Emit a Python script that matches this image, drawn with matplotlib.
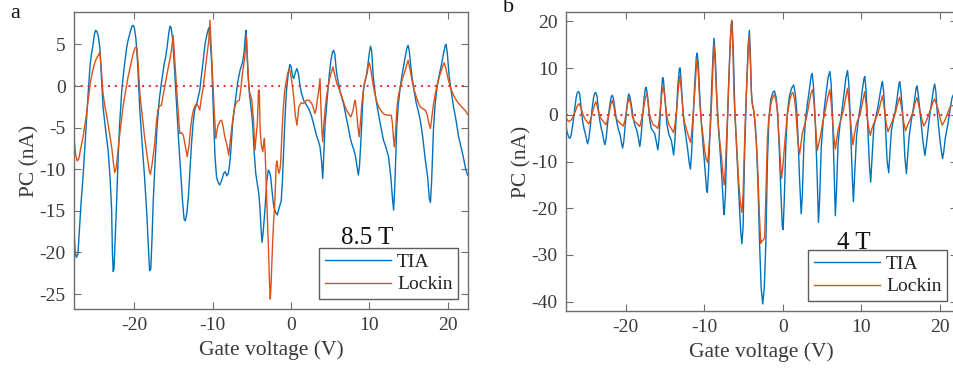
import matplotlib
matplotlib.use("Agg")
import matplotlib.pyplot as plt

plt.rcParams['font.family'] = ['Liberation Serif', 'DejaVu Serif']
plt.rcParams['axes.unicode_minus'] = False

# (gate voltage V, photocurrent nA)

# panel a, 8.5 T, TIA
a_tia = [
    (-27.75, -16.5), (-27.55, -20.0), (-27.4, -20.6), (-27.2, -20.2), (-27.0, -17.0), (-26.8, -14.0),
    (-26.55, -10.9), (-26.2, -5.5), (-25.9, -0.9), (-25.65, 2.5), (-25.5, 3.7), (-25.3, 4.8), (-25.1, 6.2),
    (-24.95, 6.7), (-24.8, 6.6), (-24.6, 6.0), (-24.4, 4.6), (-24.2, 1.0), (-24.0, -2.5), (-23.7, -5.0),
    (-23.35, -7.7), (-23.1, -11.0), (-22.9, -14.9), (-22.8, -20.0), (-22.7, -22.3), (-22.6, -22.0),
    (-22.45, -18.5), (-22.3, -14.9), (-22.1, -9.5), (-21.9, -4.9), (-21.6, -0.5), (-21.35, 1.8),
    (-21.2, 3.0), (-21.0, 4.5), (-20.8, 5.5), (-20.5, 6.6), (-20.3, 7.2), (-20.15, 7.3), (-20.0, 7.0),
    (-19.8, 5.7), (-19.6, 3.0), (-19.3, -2.9), (-19.0, -7.0), (-18.7, -10.9), (-18.4, -15.5),
    (-18.2, -19.5), (-18.05, -22.2), (-17.9, -22.0), (-17.75, -18.5), (-17.6, -14.1), (-17.35, -9.0),
    (-17.1, -4.9), (-16.8, -1.5), (-16.5, 0.7), (-16.2, 2.6), (-16.0, 3.5), (-15.8, 4.8), (-15.6, 6.4),
    (-15.45, 7.2), (-15.3, 7.0), (-15.1, 5.5), (-14.9, 2.5), (-14.6, -2.5), (-14.35, -6.5), (-14.1, -10.1),
    (-13.85, -13.8), (-13.65, -16.0), (-13.5, -16.2), (-13.3, -15.3), (-13.1, -13.3), (-12.9, -10.0),
    (-12.7, -6.9), (-12.5, -4.5), (-12.3, -2.9), (-12.0, -2.0), (-11.65, -0.5), (-11.4, 1.5), (-11.2, 3.1),
    (-10.95, 5.2), (-10.7, 6.3), (-10.5, 7.0), (-10.35, 6.0), (-10.15, 3.1), (-10.0, -0.5), (-9.85, -4.9),
    (-9.7, -8.5), (-9.5, -11.0), (-9.3, -11.6), (-9.1, -11.9), (-8.8, -11.2), (-8.6, -10.5), (-8.4, -10.3),
    (-8.2, -10.8), (-8.0, -10.5), (-7.85, -9.5), (-7.7, -8.0), (-7.45, -4.5), (-7.15, -2.1), (-6.8, 0.5),
    (-6.5, 1.9), (-6.2, 2.8), (-6.0, 4.0), (-5.85, 5.8), (-5.75, 6.7), (-5.65, 5.0), (-5.5, 1.5),
    (-5.3, -1.0), (-5.1, -2.6), (-4.9, -4.5), (-4.7, -8.0), (-4.5, -10.5), (-4.3, -11.8), (-4.1, -13.0),
    (-3.95, -14.9), (-3.8, -17.5), (-3.7, -18.8), (-3.55, -17.5), (-3.3, -14.5), (-3.1, -11.5),
    (-2.9, -10.1), (-2.75, -10.3), (-2.6, -10.9), (-2.4, -12.8), (-2.2, -14.5), (-1.95, -15.2),
    (-1.75, -15.5), (-1.5, -14.6), (-1.25, -13.8), (-1.1, -11.5), (-0.95, -8.0), (-0.8, -4.5),
    (-0.6, -0.8), (-0.35, 1.5), (-0.15, 2.6), (0.0, 2.4), (0.2, 1.2), (0.35, 0.9), (0.55, 1.6),
    (0.75, 2.1), (0.95, 1.5), (1.15, 0.0), (1.35, -0.9), (1.65, -1.8), (2.0, -2.3), (2.3, -2.8),
    (2.65, -3.7), (3.0, -5.0), (3.3, -6.1), (3.5, -6.6), (3.7, -7.3), (3.9, -9.0), (4.05, -11.1),
    (4.2, -8.0), (4.35, -4.5), (4.5, -2.9), (4.7, -0.8), (4.9, 1.5), (5.1, 3.1), (5.3, 4.1), (5.45, 4.3),
    (5.6, 3.8), (5.75, 2.2), (5.9, 1.1), (6.3, -0.8), (6.7, -2.1), (7.0, -3.5), (7.3, -4.9), (7.55, -6.2),
    (7.75, -6.9), (8.0, -7.6), (8.2, -8.3), (8.4, -9.5), (8.6, -10.7), (8.75, -9.5), (8.95, -6.1),
    (9.1, -3.0), (9.25, -0.5), (9.45, 0.6), (9.6, 1.1), (9.8, 2.4), (10.0, 4.0), (10.15, 4.8), (10.3, 4.2),
    (10.5, 1.1), (10.8, -1.3), (11.15, -3.3), (11.5, -5.0), (11.8, -6.5), (12.1, -7.3), (12.45, -8.5),
    (12.75, -11.0), (12.95, -13.5), (13.1, -14.9), (13.25, -12.0), (13.5, -4.9), (13.7, -2.2),
    (13.95, -0.1), (14.15, 1.2), (14.35, 2.3), (14.6, 3.6), (14.8, 4.6), (14.95, 4.9), (15.1, 4.2),
    (15.25, 2.8), (15.45, 1.1), (15.7, -0.5), (16.0, -2.1), (16.25, -3.0), (16.5, -4.1), (16.8, -6.0),
    (17.15, -8.9), (17.45, -11.0), (17.65, -13.5), (17.8, -14.0), (17.95, -11.5), (18.2, -4.9),
    (18.4, -2.2), (18.6, -0.5), (18.85, 1.0), (19.15, 2.3), (19.45, 3.8), (19.7, 4.9), (19.8, 5.0),
    (19.95, 4.0), (20.2, 1.1), (20.45, -0.6), (20.75, -2.5), (21.05, -4.0), (21.4, -6.1), (21.6, -6.9),
    (21.8, -7.7), (22.1, -9.0), (22.3, -10.0), (22.55, -10.7),
]

# panel a, 8.5 T, lock-in
a_lock = [
    (-27.75, -5.7), (-27.5, -8.2), (-27.3, -9.0), (-27.1, -8.8), (-26.85, -7.5), (-26.55, -6.1),
    (-26.2, -4.0), (-25.9, -1.7), (-25.6, 0.5), (-25.3, 1.9), (-25.05, 2.8), (-24.85, 3.3), (-24.6, 3.7),
    (-24.4, 4.1), (-24.25, 2.5), (-24.0, -0.9), (-23.75, -2.5), (-23.5, -3.7), (-23.2, -5.5), (-22.9, -7.3),
    (-22.7, -9.0), (-22.5, -10.4), (-22.3, -9.8), (-22.0, -6.9), (-21.7, -4.5), (-21.45, -2.5),
    (-21.1, -0.5), (-20.8, 1.1), (-20.45, 2.6), (-20.15, 3.9), (-19.9, 4.6), (-19.7, 4.7), (-19.5, 2.5),
    (-19.3, -0.9), (-19.0, -3.5), (-18.7, -6.1), (-18.35, -8.5), (-18.1, -10.2), (-17.95, -10.6),
    (-17.75, -9.5), (-17.4, -6.9), (-17.2, -4.5), (-17.0, -2.9), (-16.8, -2.4), (-16.55, -2.3),
    (-16.2, -0.5), (-15.9, 1.1), (-15.6, 2.6), (-15.4, 3.5), (-15.2, 4.8), (-15.05, 6.1), (-14.9, 4.0),
    (-14.7, 1.1), (-14.45, -2.5), (-14.2, -5.7), (-14.0, -5.6), (-13.75, -5.9), (-13.5, -7.2),
    (-13.25, -8.5), (-13.0, -7.0), (-12.8, -4.9), (-12.6, -3.5), (-12.4, -2.7), (-12.2, -2.3),
    (-12.05, -2.1), (-11.85, -2.4), (-11.65, -2.9), (-11.45, -1.5), (-11.2, -0.1), (-10.95, 2.0),
    (-10.7, 3.9), (-10.5, 5.5), (-10.35, 7.9), (-10.2, 5.0), (-10.0, 1.1), (-9.8, -3.0), (-9.6, -6.3),
    (-9.45, -5.3), (-9.3, -4.7), (-9.05, -4.2), (-8.85, -4.1), (-8.65, -5.0), (-8.45, -6.1), (-8.2, -7.0),
    (-7.95, -8.3), (-7.75, -6.5), (-7.45, -4.1), (-7.25, -2.8), (-7.05, -2.1), (-6.8, -1.8), (-6.6, -1.7),
    (-6.4, -0.3), (-6.2, 1.5), (-5.9, 3.5), (-5.7, 6.1), (-5.55, 3.0), (-5.35, -0.5), (-5.0, -1.7),
    (-4.8, -4.0), (-4.6, -7.7), (-4.45, -6.0), (-4.3, -4.5), (-4.15, -0.5), (-4.05, -0.5), (-3.95, -5.0),
    (-3.8, -7.0), (-3.6, -7.9), (-3.5, -7.0), (-3.4, -6.3), (-3.3, -8.0), (-3.2, -10.9), (-3.05, -15.0),
    (-2.9, -18.9), (-2.75, -23.5), (-2.65, -25.6), (-2.55, -24.0), (-2.35, -18.9), (-2.2, -16.0),
    (-2.05, -13.7), (-1.9, -9.5), (-1.8, -9.0), (-1.65, -10.0), (-1.55, -10.5), (-1.4, -10.0),
    (-1.3, -8.9), (-1.15, -5.5), (-1.0, -2.9), (-0.8, -0.5), (-0.65, 0.3), (-0.4, 1.6), (-0.2, 2.1),
    (0.0, 1.2), (0.2, -0.1), (0.4, -1.8), (0.55, -3.5), (0.75, -4.7), (0.9, -3.5), (1.0, -2.5), (1.3, -2.0),
    (1.6, -2.1), (1.85, -1.8), (2.0, -1.7), (2.3, -1.7), (2.65, -2.1), (2.9, -2.8), (3.05, -3.3),
    (3.2, -2.8), (3.35, -1.7), (3.55, -0.5), (3.7, 0.9), (3.8, -2.0), (3.95, -5.5), (4.05, -6.7),
    (4.2, -4.5), (4.35, -2.9), (4.5, -1.5), (4.7, -0.3), (4.9, 0.8), (5.1, 1.5), (5.35, 2.3), (5.55, 1.5),
    (5.85, 0.3), (6.2, -0.5), (6.5, -1.3), (6.8, -2.2), (7.1, -2.9), (7.4, -3.4), (7.65, -3.7), (7.9, -3.0),
    (8.1, -2.0), (8.2, -1.7), (8.35, -2.8), (8.5, -4.5), (8.7, -6.1), (8.85, -4.5), (9.05, -2.1),
    (9.2, -0.8), (9.35, 0.3), (9.7, 1.5), (9.9, 2.5), (10.0, 2.8), (10.2, 2.0), (10.45, 0.3), (10.7, -0.9),
    (10.95, -1.9), (11.25, -2.6), (11.6, -3.1), (11.9, -3.4), (12.25, -3.5), (12.5, -3.5), (12.8, -3.5),
    (12.95, -4.5), (13.1, -6.5), (13.2, -7.3), (13.35, -5.5), (13.5, -2.9), (13.7, -1.2), (13.95, -0.1),
    (14.2, 0.8), (14.45, 1.5), (14.7, 2.3), (14.95, 3.1), (15.15, 2.2), (15.45, 0.7), (15.7, -0.4),
    (16.0, -1.3), (16.25, -2.0), (16.5, -2.5), (16.8, -2.7), (17.15, -2.9), (17.4, -3.5), (17.6, -4.5),
    (17.8, -5.1), (17.95, -4.0), (18.2, -2.1), (18.45, -0.8), (18.7, 0.3), (19.0, 1.3), (19.3, 2.2),
    (19.55, 2.8), (19.75, 2.2), (20.1, 0.7), (20.4, -0.3), (20.75, -1.1), (21.1, -1.7), (21.4, -2.1),
    (21.7, -2.4), (22.0, -2.7), (22.3, -3.0), (22.55, -3.4),
]

# panel b, 4 T, TIA
b_tia = [
    (-27.65, -2.1), (-27.45, -3.8), (-27.25, -4.8), (-27.1, -5.0), (-26.95, -4.4), (-26.75, -2.2),
    (-26.5, 1.2), (-26.3, 3.8), (-26.15, 4.8), (-26.0, 5.0), (-25.85, 4.4), (-25.7, 2.0), (-25.5, -1.2),
    (-25.3, -3.0), (-25.1, -4.3), (-24.95, -5.6), (-24.85, -6.2), (-24.7, -5.2), (-24.5, -2.4),
    (-24.3, 1.0), (-24.1, 3.6), (-23.95, 4.6), (-23.8, 4.8), (-23.65, 4.0), (-23.5, 1.6), (-23.3, -1.2),
    (-23.1, -3.0), (-22.95, -3.9), (-22.8, -5.4), (-22.65, -6.4), (-22.5, -5.2), (-22.3, -1.8),
    (-22.05, 1.8), (-21.85, 3.8), (-21.7, 4.2), (-21.55, 3.4), (-21.35, 1.0), (-21.15, -1.4),
    (-20.95, -3.0), (-20.7, -4.3), (-20.55, -5.8), (-20.4, -7.1), (-20.25, -5.8), (-20.05, -2.0),
    (-19.85, 1.5), (-19.7, 3.8), (-19.6, 4.5), (-19.45, 3.8), (-19.25, 1.8), (-19.05, -0.6),
    (-18.8, -2.4), (-18.6, -3.2), (-18.4, -4.8), (-18.2, -6.8), (-18.05, -4.8), (-17.85, -0.4),
    (-17.65, 3.6), (-17.5, 5.6), (-17.4, 5.9), (-17.25, 4.6), (-17.1, 1.8), (-16.95, -1.0),
    (-16.75, -2.9), (-16.5, -3.5), (-16.3, -4.0), (-16.1, -5.8), (-15.9, -7.5), (-15.75, -5.0),
    (-15.6, 0.0), (-15.45, 5.0), (-15.3, 8.0), (-15.2, 7.6), (-15.05, 4.6), (-14.9, 1.2), (-14.75, -2.0),
    (-14.5, -4.2), (-14.2, -5.4), (-14.05, -6.8), (-13.9, -8.6), (-13.75, -6.0), (-13.55, 0.0),
    (-13.35, 6.5), (-13.15, 10.0), (-13.05, 10.0), (-12.9, 6.0), (-12.75, 2.0), (-12.55, -2.0),
    (-12.3, -5.0), (-12.1, -7.5), (-11.9, -10.4), (-11.75, -11.6), (-11.6, -8.0), (-11.4, -0.5),
    (-11.2, 7.0), (-11.0, 12.5), (-10.9, 13.2), (-10.75, 11.0), (-10.55, 3.5), (-10.35, -2.0),
    (-10.1, -7.5), (-9.9, -12.0), (-9.7, -16.0), (-9.6, -16.6), (-9.45, -12.0), (-9.25, -3.0),
    (-9.05, 6.0), (-8.85, 14.0), (-8.75, 16.4), (-8.6, 13.0), (-8.4, 4.0), (-8.2, -2.5), (-7.95, -8.5),
    (-7.7, -15.0), (-7.55, -20.0), (-7.45, -21.4), (-7.3, -17.0), (-7.1, -5.0), (-6.9, 6.0),
    (-6.7, 15.0), (-6.55, 19.5), (-6.45, 20.0), (-6.3, 14.0), (-6.1, 1.0), (-5.85, -8.0), (-5.6, -16.8),
    (-5.35, -25.0), (-5.2, -27.6), (-5.05, -24.0), (-4.85, -8.0), (-4.6, 6.0), (-4.4, 15.0),
    (-4.25, 18.1), (-4.1, 12.0), (-4.0, 5.0), (-3.85, 2.0), (-3.7, 1.0), (-3.5, -2.0), (-3.35, -6.1),
    (-3.15, -15.0), (-2.95, -27.5), (-2.75, -37.0), (-2.55, -40.5), (-2.35, -37.0), (-2.15, -27.5),
    (-1.95, -10.0), (-1.75, -0.5), (-1.5, 3.5), (-1.2, 5.0), (-1.05, 5.1), (-0.85, 3.8), (-0.65, 0.5),
    (-0.45, -7.0), (-0.25, -16.0), (-0.05, -24.0), (0.05, -24.6), (0.2, -18.0), (0.4, -6.1), (0.6, 0.5),
    (0.85, 4.0), (1.15, 5.8), (1.4, 6.4), (1.6, 4.5), (1.8, 0.5), (1.95, -5.0), (2.15, -14.0),
    (2.35, -21.2), (2.5, -17.0), (2.7, -6.1), (2.9, -1.0), (3.15, 2.5), (3.4, 5.5), (3.6, 8.2),
    (3.75, 8.9), (3.9, 6.5), (4.05, 2.0), (4.2, -4.0), (4.4, -14.0), (4.55, -23.0), (4.7, -18.0),
    (4.9, -7.0), (5.1, -2.5), (5.3, 1.5), (5.55, 5.0), (5.8, 8.2), (6.0, 9.3), (6.15, 7.0), (6.3, 1.5),
    (6.45, -6.5), (6.6, -16.0), (6.7, -21.6), (6.85, -16.0), (7.05, -6.1), (7.3, -2.0), (7.55, 1.0),
    (7.8, 4.5), (8.05, 8.0), (8.25, 9.5), (8.4, 7.0), (8.55, 1.5), (8.7, -5.5), (8.85, -13.0),
    (9.0, -18.6), (9.15, -13.0), (9.4, -4.6), (9.65, -0.8), (9.9, 2.0), (10.15, 5.5), (10.35, 7.8),
    (10.45, 8.2), (10.6, 5.5), (10.75, 1.0), (10.9, -5.5), (11.05, -11.0), (11.2, -14.4), (11.35, -10.0),
    (11.6, -2.5), (11.85, -0.5), (12.1, 1.5), (12.35, 4.0), (12.6, 6.6), (12.7, 7.1), (12.85, 5.0),
    (13.0, 1.0), (13.15, -5.0), (13.3, -10.0), (13.5, -12.4), (13.65, -8.0), (13.85, -3.2),
    (14.1, -1.0), (14.35, 1.0), (14.6, 4.0), (14.8, 6.6), (14.9, 7.1), (15.05, 5.0), (15.25, 1.0),
    (15.4, -3.5), (15.55, -9.0), (15.75, -12.6), (15.9, -9.0), (16.1, -4.6), (16.35, -1.5), (16.6, 1.0),
    (16.85, 4.0), (17.0, 5.8), (17.1, 6.2), (17.25, 4.5), (17.45, 1.1), (17.65, -2.5), (17.85, -5.5),
    (18.1, -8.7), (18.25, -7.0), (18.45, -4.0), (18.7, -0.4), (18.95, 2.5), (19.2, 5.5), (19.35, 6.6),
    (19.5, 5.0), (19.65, 1.1), (19.85, -2.5), (20.1, -6.5), (20.35, -9.4), (20.5, -8.0), (20.7, -5.0),
    (21.05, -1.8), (21.3, 1.0), (21.55, 3.6), (21.8, 4.6), (22.0, 5.0), (22.2, 4.2),
]

# panel b, 4 T, lock-in
b_lock = [
    (-27.65, -0.4), (-27.4, -1.2), (-27.2, -1.4), (-26.95, -1.1), (-26.7, -0.4), (-26.45, 0.6),
    (-26.2, 1.8), (-25.95, 2.4), (-25.75, 1.8), (-25.5, 0.4), (-25.3, -0.5), (-25.1, -1.1), (-24.7, -1.9),
    (-24.45, -1.0), (-24.25, 0.4), (-24.0, 2.0), (-23.8, 2.8), (-23.6, 1.8), (-23.4, 0.0), (-23.1, -0.9),
    (-22.85, -1.4), (-22.5, -2.1), (-22.3, -1.0), (-22.1, 0.4), (-21.9, 2.2), (-21.7, 3.1), (-21.5, 1.8),
    (-21.3, -0.4), (-21.0, -1.3), (-20.7, -1.8), (-20.3, -2.4), (-20.1, -1.2), (-19.95, 0.4),
    (-19.75, 2.6), (-19.55, 3.6), (-19.35, 2.2), (-19.15, -0.4), (-18.9, -1.3), (-18.6, -1.8),
    (-18.2, -2.5), (-17.95, -0.8), (-17.75, 1.1), (-17.5, 3.6), (-17.3, 4.6), (-17.15, 3.0), (-17.0, 0.4),
    (-16.75, -1.2), (-16.5, -2.1), (-16.2, -2.4), (-15.9, -2.9), (-15.75, -1.4), (-15.6, 1.1),
    (-15.4, 4.5), (-15.2, 6.2), (-15.05, 4.2), (-14.85, 1.1), (-14.7, -0.8), (-14.5, -2.1), (-14.2, -2.9),
    (-13.9, -3.8), (-13.7, -1.8), (-13.5, 1.1), (-13.3, 5.5), (-13.1, 8.4), (-12.9, 5.0), (-12.65, -0.4),
    (-12.45, -2.0), (-12.25, -3.2), (-12.0, -4.6), (-11.75, -5.9), (-11.6, -4.0), (-11.45, -0.8),
    (-11.2, 5.0), (-11.0, 10.5), (-10.9, 11.9), (-10.75, 9.0), (-10.55, 2.0), (-10.35, -1.8),
    (-10.15, -4.5), (-9.95, -7.5), (-9.75, -9.5), (-9.55, -10.2), (-9.4, -7.0), (-9.2, -2.5), (-9.0, 5.0),
    (-8.85, 12.0), (-8.75, 15.0), (-8.6, 11.0), (-8.4, 3.0), (-8.25, -1.1), (-8.0, -6.0), (-7.8, -8.9),
    (-7.6, -13.0), (-7.45, -15.0), (-7.3, -11.0), (-7.05, -1.1), (-6.85, 8.0), (-6.65, 17.0),
    (-6.5, 20.3), (-6.35, 14.0), (-6.2, 4.0), (-6.05, -1.1), (-5.8, -8.5), (-5.6, -14.6), (-5.35, -19.5),
    (-5.2, -20.9), (-5.05, -17.0), (-4.8, -2.5), (-4.55, 8.0), (-4.35, 15.0), (-4.25, 16.8), (-4.1, 10.0),
    (-3.95, 3.2), (-3.65, 0.4), (-3.35, -6.1), (-3.15, -13.0), (-3.0, -20.3), (-2.8, -27.5),
    (-2.65, -27.0), (-2.5, -26.8), (-2.3, -26.3), (-2.2, -20.0), (-2.1, -13.2), (-1.95, -5.0),
    (-1.8, -1.1), (-1.45, 2.8), (-1.2, 4.0), (-1.05, 4.3), (-0.85, 3.0), (-0.7, 1.1), (-0.5, -4.0),
    (-0.3, -10.0), (-0.15, -13.6), (0.05, -10.5), (0.25, -6.1), (0.55, -0.4), (0.9, 3.2), (1.1, 4.4),
    (1.3, 4.8), (1.5, 3.4), (1.65, 1.1), (1.8, -2.5), (1.95, -6.1), (2.15, -8.4), (2.3, -6.5), (2.5, -3.9),
    (2.95, -1.1), (3.15, 0.5), (3.35, 2.5), (3.6, 4.6), (3.8, 5.4), (3.95, 3.2), (4.1, -0.4), (4.25, -4.0),
    (4.4, -7.6), (4.55, -6.5), (4.8, -4.6), (5.05, -2.0), (5.35, 0.4), (5.7, 3.5), (6.0, 5.4), (6.15, 3.0),
    (6.35, -1.1), (6.5, -4.5), (6.7, -7.3), (6.85, -5.5), (7.05, -3.2), (7.5, -0.4), (7.75, 1.1),
    (8.0, 3.5), (8.25, 5.7), (8.4, 3.5), (8.55, 0.4), (8.75, -3.5), (8.95, -6.4), (9.15, -4.0),
    (9.4, -1.8), (9.9, 0.4), (10.2, 3.0), (10.45, 5.0), (10.6, 2.5), (10.75, -0.4), (10.95, -2.8),
    (11.15, -4.4), (11.35, -3.0), (11.6, -1.8), (12.15, 0.4), (12.45, 2.5), (12.7, 4.1), (12.85, 2.5),
    (13.0, 0.4), (13.2, -2.0), (13.4, -3.6), (13.6, -2.8), (13.85, -1.8), (14.4, 0.7), (14.7, 2.8),
    (14.9, 3.8), (15.1, 1.8), (15.3, -0.4), (15.45, -2.0), (15.65, -3.4), (15.9, -2.2), (16.2, -1.1),
    (16.6, 0.7), (16.85, 2.5), (17.1, 3.7), (17.3, 2.2), (17.55, 0.4), (17.75, -1.2), (17.95, -2.4),
    (18.2, -1.6), (18.5, -0.4), (18.9, 1.5), (19.15, 2.8), (19.35, 3.4), (19.55, 2.4), (19.8, 1.1),
    (20.05, -0.8), (20.3, -2.2), (20.55, -1.5), (20.85, -0.4), (21.1, 0.8), (21.35, 1.8), (21.8, 2.1),
    (22.2, 1.6),
]

x_ticks = [-20, -10, 0, 10, 20]
a_yticks = [-25, -20, -15, -10, -5, 0, 5]
b_yticks = [-40, -30, -20, -10, 0, 10, 20]

tia_color = '#0072BD'
lock_color = '#D95319'
axis_color = '#6e6e6e'
text_color = '#3a3a3a'

fig = plt.figure(figsize=(9.54, 3.79), dpi=100)
ax1 = fig.add_axes([0.0776, 0.1847, 0.413, 0.7836])
# right panel runs slightly past the figure edge, as in the cropped original
ax2 = fig.add_axes([0.5933, 0.1794, 0.4099, 0.7886])

panels = [
    (ax1, a_tia, a_lock, (-27.7, 22.6), (-26.8, 8.9), a_yticks, '8.5 T', 0.744, 0.239),
    (ax2, b_tia, b_lock, (-27.6, 22.2), (-42, 22), b_yticks, '4 T', 0.737, 0.227),
]

for ax, tia, lock, xl, yl, yt, field, tx, ty in panels:
    tv, tp = zip(*tia)
    lv, lp = zip(*lock)
    ax.plot(tv, tp, color=tia_color, lw=1.0, label='TIA')
    ax.plot(lv, lp, color=lock_color, lw=1.0, label='Lockin')
    ax.axhline(0, color='#ee2a2a', ls=(0, (1, 2.5)), lw=1.4)
    ax.set_xlim(*xl)
    ax.set_ylim(*yl)
    ax.set_xticks(x_ticks)
    ax.set_yticks(yt)
    ax.tick_params(direction='in', top=True, right=True, length=5, width=0.8,
                   colors=axis_color, labelcolor=text_color, labelsize=14, pad=6)
    for s in ax.spines.values():
        s.set_color(axis_color)
        s.set_linewidth(1.0)
    ax.set_xlabel('Gate voltage (V)', fontsize=15.5, color=text_color, labelpad=4)
    ax.set_ylabel('PC (nA)', fontsize=15.5, color=text_color, labelpad=0)
    leg = ax.legend(loc='lower right', fontsize=14, handlelength=3.4, frameon=True,
                    fancybox=False, borderaxespad=0.5, labelspacing=0.25,
                    handletextpad=0.3, borderpad=0.3)
    leg.get_frame().set_edgecolor('#333333')
    leg.get_frame().set_linewidth(1.0)
    for t in leg.get_texts():
        t.set_color('#222222')
    ax.text(tx, ty, field, transform=ax.transAxes, fontsize=18, ha='center',
            va='center', color='#111111')

fig.text(10 / 954, 1 - 14 / 379, 'a', fontsize=16, ha='left', va='center', color='#111111')
fig.text(503 / 954, 1 - 8 / 379, 'b', fontsize=16, ha='left', va='center', color='#111111')

fig.savefig('out.png', dpi=100)
